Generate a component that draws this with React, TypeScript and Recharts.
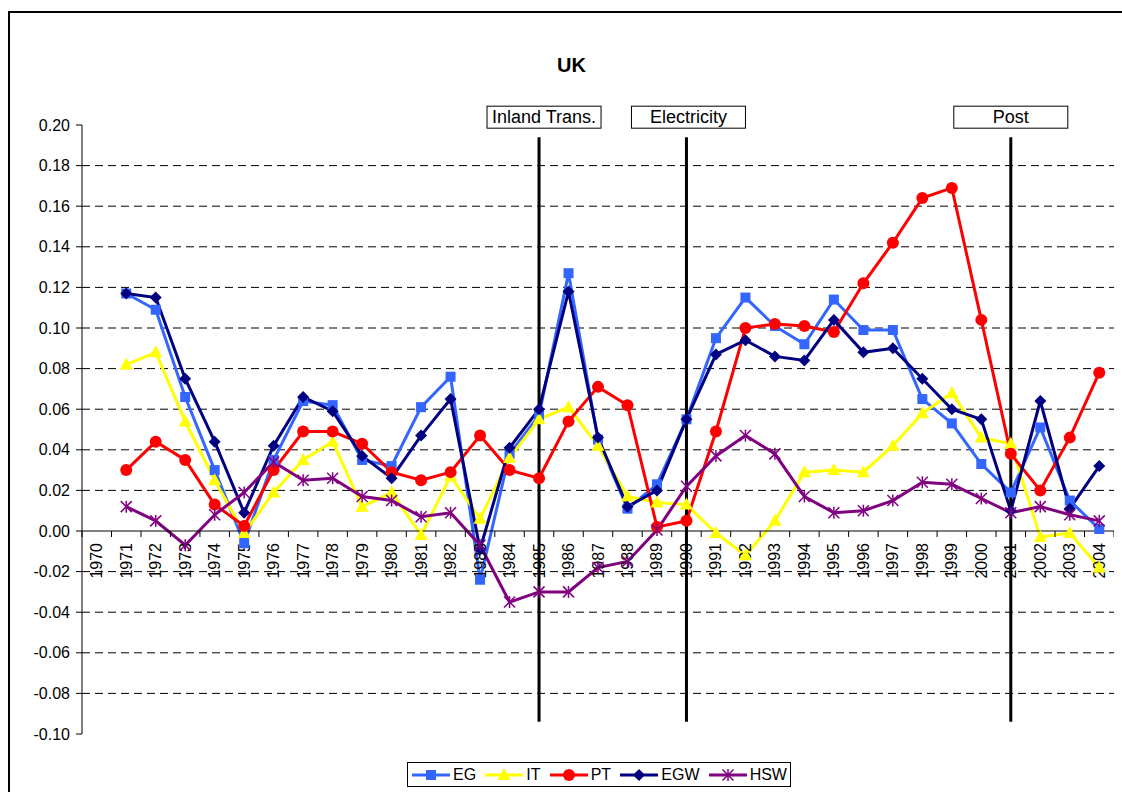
import React from "react";
import { LineChart, Line, XAxis, YAxis, CartesianGrid, ReferenceLine } from "recharts";

const years = [
  "1970", "1971", "1972", "1973", "1974", "1975", "1976", "1977", "1978", "1979",
  "1980", "1981", "1982", "1983", "1984", "1985", "1986", "1987", "1988", "1989",
  "1990", "1991", "1992", "1993", "1994", "1995", "1996", "1997", "1998", "1999",
  "2000", "2001", "2002", "2003", "2004",
];

const eg = [
  null, 0.117, 0.109, 0.066, 0.03, -0.006, 0.035, 0.064, 0.062, 0.035,
  0.032, 0.061, 0.076, -0.024, 0.038, 0.057, 0.127, 0.045, 0.011, 0.023,
  0.055, 0.095, 0.115, 0.101, 0.092, 0.114, 0.099, 0.099, 0.065, 0.053,
  0.033, 0.019, 0.051, 0.015, 0.001,
];
const it = [
  null, 0.082, 0.088, 0.054, 0.025, -0.001, 0.019, 0.035, 0.044, 0.012,
  0.019, -0.002, 0.027, 0.006, 0.036, 0.055, 0.061, 0.042, 0.017, 0.014,
  0.013, -0.001, -0.012, 0.005, 0.029, 0.03, 0.029, 0.042, 0.058, 0.068,
  0.046, 0.043, -0.003, -0.001, -0.018,
];
const pt = [
  null, 0.03, 0.044, 0.035, 0.013, 0.0025, 0.03, 0.049, 0.049, 0.043,
  0.029, 0.025, 0.029, 0.047, 0.03, 0.026, 0.054, 0.071, 0.062, 0.002,
  0.005, 0.049, 0.1, 0.102, 0.101, 0.098, 0.122, 0.142, 0.164, 0.169,
  0.104, 0.038, 0.02, 0.046, 0.078,
];
const egw = [
  null, 0.117, 0.115, 0.075, 0.044, 0.009, 0.042, 0.066, 0.059, 0.037,
  0.026, 0.047, 0.065, -0.009, 0.041, 0.06, 0.118, 0.046, 0.012, 0.02,
  0.055, 0.087, 0.094, 0.086, 0.084, 0.104, 0.088, 0.09, 0.075, 0.06,
  0.055, 0.01, 0.064, 0.011, 0.032,
];
const hsw = [
  null, 0.012, 0.005, -0.007, 0.008, 0.019, 0.034, 0.025, 0.026, 0.017,
  0.015, 0.007, 0.009, -0.007, -0.035, -0.03, -0.03, -0.018, -0.015, 0.0005,
  0.022, 0.037, 0.047, 0.038, 0.017, 0.009, 0.01, 0.015, 0.024, 0.023,
  0.016, 0.009, 0.012, 0.008, 0.005,
];

const yTicks = [-0.1, -0.08, -0.06, -0.04, -0.02, 0, 0.02, 0.04, 0.06, 0.08, 0.1, 0.12, 0.14, 0.16, 0.18, 0.2];
const gridValues = [-0.08, -0.06, -0.04, -0.02, 0.02, 0.04, 0.06, 0.08, 0.1, 0.12, 0.14, 0.16, 0.18];

// sector reforms drawn as vertical lines
const reforms = [
  { year: "1985", label: "Inland Trans.", dx: 5 },
  { year: "1990", label: "Electricity", dx: 2 },
  { year: "2001", label: "Post", dx: 0 },
];
const reformTop = 0.194;
const reformBottom = -0.094;

const series = [
  { key: "EG", values: eg, color: "#3366FF", shape: "square" },
  { key: "IT", values: it, color: "#FFFF00", shape: "triangle" },
  { key: "PT", values: pt, color: "#FF0000", shape: "circle" },
  { key: "EGW", values: egw, color: "#000080", shape: "diamond" },
  { key: "HSW", values: hsw, color: "#800080", shape: "star" },
];

const data = years.map((year, i) => {
  const row: any = { year };
  series.forEach((s) => (row[s.key] = s.values[i]));
  return row;
});

const FONT = "'Liberation Sans', Arial, sans-serif";
const PLOT_W = 1032;
const HALF_BAND = PLOT_W / years.length / 2;

const Marker = ({ shape, color, cx, cy }: any) => {
  switch (shape) {
    case "square":
      return <rect x={cx - 5} y={cy - 5} width={10} height={10} fill={color} />;
    case "triangle":
      return <polygon points={`${cx},${cy - 7} ${cx + 6.5},${cy + 5} ${cx - 6.5},${cy + 5}`} fill={color} />;
    case "circle":
      return <circle cx={cx} cy={cy} r={6} fill={color} />;
    case "diamond":
      return <polygon points={`${cx},${cy - 6} ${cx + 6},${cy} ${cx},${cy + 6} ${cx - 6},${cy}`} fill={color} />;
    default:
      return (
        <g stroke={color} strokeWidth={1.5}>
          <line x1={cx} y1={cy - 6} x2={cx} y2={cy + 6} />
          <line x1={cx - 5.5} y1={cy - 5.5} x2={cx + 5.5} y2={cy + 5.5} />
          <line x1={cx - 5.5} y1={cy + 5.5} x2={cx + 5.5} y2={cy - 5.5} />
        </g>
      );
  }
};

const makeDot = (shape: string, color: string) => (p: any) => {
  if (p.value == null || p.cy == null || isNaN(p.cy)) return <g key={p.index} />;
  return <Marker key={p.index} shape={shape} color={color} cx={p.cx} cy={p.cy} />;
};

// x axis drawn along y = 0, with category ticks and rotated labels
const axisTick = (p: any) => {
  const { cx, cy, index, points, payload } = p;
  if (cy == null || isNaN(cy)) return <g key={index} />;
  const step = points && points.length > 1 ? points[1].x - points[0].x : HALF_BAND * 2;
  const left = cx - step / 2;
  const right = cx + step / 2;
  const isLast = points ? index === points.length - 1 : false;
  const ty = cy + 12;
  return (
    <g key={index}>
      <line x1={left} x2={right} y1={cy} y2={cy} stroke="#000" strokeWidth={1} />
      <line x1={left} x2={left} y1={cy} y2={cy + 6} stroke="#000" strokeWidth={1} />
      {isLast && <line x1={right} x2={right} y1={cy} y2={cy + 6} stroke="#000" strokeWidth={1} />}
      <text
        x={cx}
        y={ty}
        transform={`rotate(-90, ${cx}, ${ty})`}
        textAnchor="end"
        dominantBaseline="central"
        fontSize={16}
        fontFamily={FONT}
        fill="#000"
      >
        {payload.year}
      </text>
    </g>
  );
};

const reformLabel = (r: any) => (props: any) => {
  const vb = props.viewBox || {};
  const cx = vb.x + r.dx;
  const top = vb.y - 31;
  return (
    <g>
      <rect x={cx - 57} y={top} width={114} height={22} fill="#fff" stroke="#000" strokeWidth={1} />
      <text x={cx} y={top + 17} textAnchor="middle" fontSize={18} fontFamily={FONT} fill="#000">
        {r.label}
      </text>
    </g>
  );
};

const LegendIcon = ({ s }: any) => (
  <svg width={38} height={16} style={{ display: "block" }}>
    <line x1={0} x2={38} y1={8} y2={8} stroke={s.color} strokeWidth={3} />
    <Marker shape={s.shape} color={s.color} cx={19} cy={8} />
  </svg>
);

export default function App() {
  return (
    <div style={{ position: "fixed", left: 0, top: 0, width: 1122, height: 792, overflow: "hidden", background: "#fff" }}>
      <div
        style={{
          position: "absolute",
          left: 8,
          top: 11,
          width: 1200,
          height: 900,
          border: "2px solid #000",
        }}
      />
      <div
        style={{
          position: "absolute",
          left: 521.5,
          top: 55,
          width: 100,
          textAlign: "center",
          fontFamily: FONT,
          fontWeight: "bold",
          fontSize: 20,
          lineHeight: "20px",
        }}
      >
        UK
      </div>
      <div style={{ position: "absolute", left: 8, top: 8 }}>
        <LineChart width={1106} height={776} data={data} margin={{ top: 117, right: 0, bottom: 50, left: 14 }}>
          <CartesianGrid vertical={false} horizontalValues={gridValues} stroke="#000" strokeDasharray="8 5" />
          <XAxis dataKey="year" hide padding={{ left: HALF_BAND, right: HALF_BAND }} />
          <YAxis
            type="number"
            domain={[-0.1, 0.2]}
            ticks={yTicks}
            interval={0}
            width={60}
            tickFormatter={(v: number) => v.toFixed(2)}
            axisLine={{ stroke: "#000" }}
            tickLine={{ stroke: "#000" }}
            tickSize={6}
            tickMargin={6}
            tick={{ fill: "#000", fontSize: 16, fontFamily: FONT }}
          />
          <Line
            dataKey={() => 0}
            stroke="none"
            dot={axisTick}
            activeDot={false}
            legendType="none"
            isAnimationActive={false}
          />
          {series.map((s) => (
            <Line
              key={s.key}
              dataKey={s.key}
              stroke={s.color}
              strokeWidth={3}
              dot={makeDot(s.shape, s.color)}
              activeDot={false}
              isAnimationActive={false}
            />
          ))}
          {reforms.map((r) => (
            <ReferenceLine
              key={r.year}
              segment={[
                { x: r.year, y: reformTop },
                { x: r.year, y: reformBottom },
              ]}
              stroke="#000"
              strokeWidth={3}
              label={reformLabel(r)}
            />
          ))}
        </LineChart>
      </div>
      <div
        style={{
          position: "absolute",
          left: 407,
          top: 762,
          width: 384,
          height: 25,
          boxSizing: "border-box",
          border: "1px solid #000",
          display: "flex",
          alignItems: "center",
          padding: "0 3px 0 4px",
          justifyContent: "space-between",
          fontFamily: FONT,
          fontSize: 16,
          background: "#fff",
        }}
      >
        {series.map((s) => (
          <div key={s.key} style={{ display: "flex", alignItems: "center" }}>
            <LegendIcon s={s} />
            <span style={{ marginLeft: 3 }}>{s.key}</span>
          </div>
        ))}
      </div>
    </div>
  );
}
